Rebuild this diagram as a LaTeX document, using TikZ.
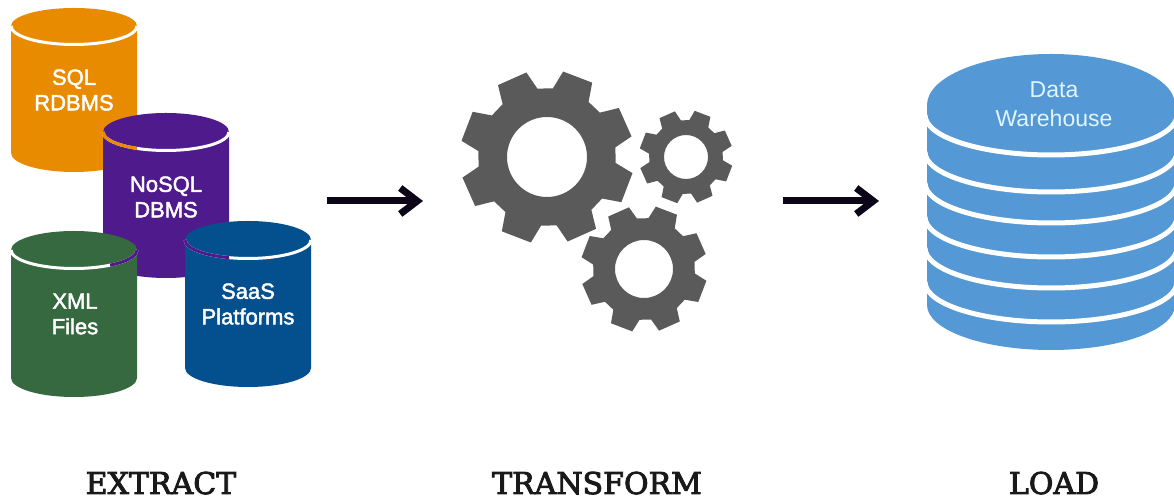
\documentclass[tikz,border=0pt]{standalone}
\usepackage{fontspec}
\setmainfont{Liberation Sans}
\newfontfamily\capfont{DejaVu Serif}[BoldFont={DejaVu Serif},BoldFeatures={FakeBold=3}]
\newfontfamily\cylfont{Liberation Sans}[BoldFont={Liberation Sans},BoldFeatures={FakeBold=2}]
\usetikzlibrary{arrows.meta}
\definecolor{cOrange}{HTML}{E98B00}
\definecolor{cPurple}{HTML}{4F1A8C}
\definecolor{cGreen}{HTML}{36693F}
\definecolor{cBlue}{HTML}{04508F}
\definecolor{cSky}{HTML}{5498D5}
\definecolor{cGear}{HTML}{5A5A5A}
\definecolor{cArrow}{HTML}{0C0518}
\tikzset{
  cyltext/.style={white,font=\cylfont\bfseries\fontsize{22}{25.5}\selectfont,align=center,inner sep=0pt},
  dwtext/.style={white!88!cyan,font=\fontsize{23}{29}\selectfont,align=center,inner sep=0pt},
  steplabel/.style={black!90,font=\capfont\bfseries\fontsize{30}{30}\selectfont,inner sep=0pt,anchor=base},
  flow/.style={cArrow,line width=7pt,-{Straight Barb[length=17pt,width=26pt,line width=7pt]}},
  rim/.style={line width=3pt},
  dwline/.style={white,line width=5pt}
}
% x centre, y side top, y side bottom, colour, ry top, ry bottom
\newcommand{\cylbody}[6]{%
  \fill[#4] (#1-63,#2) arc[start angle=180,end angle=0,x radius=63,y radius=#5]
     -- (#1+63,#3) arc[start angle=0,end angle=-180,x radius=63,y radius=#6] -- cycle;}
% x centre, y centre, colour
\newcommand{\rimarc}[3]{%
  \draw[rim,#3] (#1-63,#2) arc[start angle=180,end angle=360,x radius=63,y radius=18.5];}
% cx, cy, tip radius, root radius, hole radius
\newcommand{\gearshape}[5]{%
  \begin{scope}[shift={(#1,#2)}]
  \fill[cGear,even odd rule] (69-16:#4)
  \foreach \k in {0,45,...,315}{
    -- (69+\k-16:#4) -- (69+\k-10.3:#3) -- (69+\k+10.3:#3) -- (69+\k+16:#4)
  } -- cycle (0,0) circle[radius=#5];
  \end{scope}}
\newcommand{\dwrim}[1]{%
  \draw[dwline] (1051-126,#1) arc[start angle=180,end angle=360,x radius=126,y radius=40];}
\begin{document}
\begin{tikzpicture}[x=1pt,y=1pt]
\useasboundingbox (0,0) rectangle (1174,500);
% SQL
\cylbody{74}{474}{347}{cOrange}{18}{19}
\rimarc{74}{474}{white}
% NoSQL
\cylbody{166}{368}{241}{cPurple}{19}{19}
\rimarc{166}{368}{white}
\begin{scope}\clip (100,300) rectangle (137,400);\rimarc{166}{368}{cOrange}\end{scope}
% XML
\cylbody{74}{250}{122}{cGreen}{19}{19}
\rimarc{74}{250}{white}
\begin{scope}\clip (110,200) rectangle (140,260);\rimarc{74}{250}{cPurple}\end{scope}
% SaaS
\cylbody{248}{260}{132}{cBlue}{19}{19}
\rimarc{248}{260}{white}
\begin{scope}\clip (180,200) rectangle (229,270);\rimarc{248}{260}{cPurple}\end{scope}
\node[cyltext] (sql) at (74,410) {SQL\\RDBMS};
\node[cyltext] (nosql) at (166,303) {NoSQL\\DBMS};
\node[cyltext] (xml) at (75,186) {XML\\Files};
\node[cyltext] (saas) at (248,196) {SaaS\\Platforms};
% gears
\gearshape{547}{343}{87}{69}{40}
\gearshape{686}{343}{47}{37}{22}
\gearshape{644}{231}{63.5}{51}{29}
% warehouse
\fill[cSky] (1051-124,395) arc[start angle=180,end angle=0,x radius=124,y radius=51]
  -- (1051+124,195) arc[start angle=0,end angle=-180,x radius=124,y radius=45] -- cycle;
\foreach \c in {385,348,317,283,252,218}{\dwrim{\c}}
\node[dwtext] (dw) at (1054,396) {Data\\Warehouse};
% arrows
\coordinate (a1s) at (327,299);
\coordinate (a1e) at (423,299);
\coordinate (a2s) at (783,299);
\coordinate (a2e) at (879,299);
\draw[flow] (a1s) -- (a1e);
\draw[flow] (a2s) -- (a2e);
% captions
\node[steplabel] (ex) at (161,6) {EXTRACT};
\node[steplabel] (tr) at (597,6) {TRANSFORM};
\node[steplabel] (lo) at (1054,6) {LOAD};
\end{tikzpicture}
\end{document}
